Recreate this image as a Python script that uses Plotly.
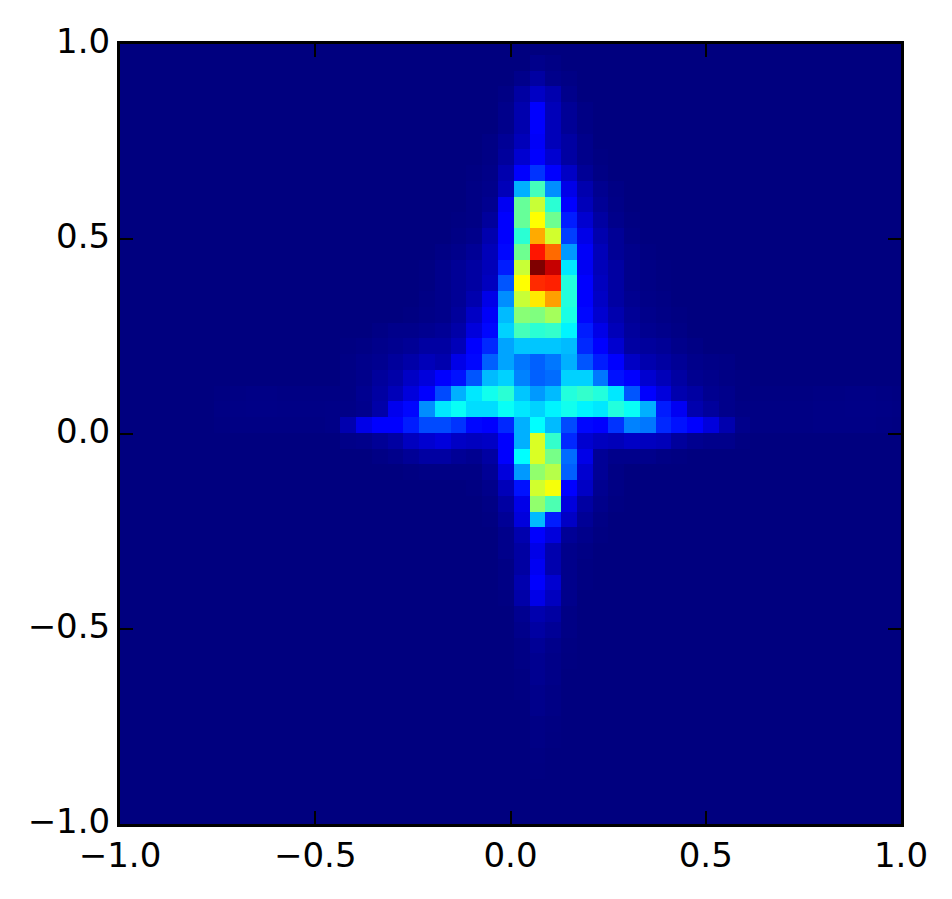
import numpy as np
import plotly.graph_objects as go

# Heat levels (percent of the colour range)
# Columns c0..c25 of the central block, rows r0..r46 from the top
central_rows = [
 [0]*26,
 [0,0,0,0,0,0, 0,0,0,0, 0,0,1,.5,0, 0,0,0,0,0,0,0,0,0,0,0],
 [0,0,0,0,0,0, 0,0,0,0, 0,1,3,1,.5, 0,0,0,0,0,0,0,0,0,0,0],
 [0,0,0,0,0,0, 0,0,0,0, .5,3,6,4,1, 0,0,0,0,0,0,0,0,0,0,0],
 [0,0,0,0,0,0, 0,0,0,0, 1,4,11,5,2, .5,0,0,0,0,0,0,0,0,0,0],
 [0,0,0,0,0,0, 0,0,0,0, 1,4,11,5,2, .5,0,0,0,0,0,0,0,0,0,0],
 [0,0,0,0,0,0, 0,0,0,.5, 2,5,10.5,5,3, 1,0,0,0,0,0,0,0,0,0,0],
 [0,0,0,0,0,0, 0,0,0,.5, 2.5,7,11,7,3, 1,.3,0,0,0,0,0,0,0,0,0],
 [0,0,0,0,0,0, 0,0,.3,.8, 4,12,17,11,6, 2,.5,0,0,0,0,0,0,0,0,0],
 [0,0,0,0,0,0, 0,0,.5,1, 5,28,43,25,9, 4,1.5,.5,0,0,0,0,0,0,0,0],
 [0,0,0,0,0,0, 0,0,.5,1.5, 10,47,58,40,12, 5,2,.7,0,0,0,0,0,0,0,0],
 [0,0,0,0,0,0, 0,.3,.5,2.5, 11,47,64,48,15, 7,3,1,.3,0,0,0,0,0,0,0],
 [0,0,0,0,0,0, 0,.5,1,4, 11,40,73,59,18, 9,4,2,.5,0,0,0,0,0,0,0],
 [0,0,0,0,0,0, .5,1,2,5, 13,48,87,79,26, 10.5,5,2,1,.3,0,0,0,0,0,0],
 [0,0,0,0,0,.3, 1,2,3,5, 15,58,100,95,33, 10,5,3,1,.5,.2,0,0,0,0,0],
 [0,0,0,0,0,.3, 1,2,3,5.5, 20,65,85,86,39, 11,5.5,3,1,.5,.2,0,0,0,0,0],
 [0,0,0,0,0,.5, 1,2,4,9, 25,58,67,74,39, 11,6,3,1.5,.7,.4,0,0,0,0,0],
 [0,0,0,0,.3,.7, 1,2.5,6,10.5, 29,51,50,54,38, 13,7,4,2,1,.6,.3,0,0,0,0],
 [0,0,.5,1,1,1.5, 2,3.5,8,13, 31,43,40,41,34, 15,9,5,2.5,1.5,1,.5,0,0,0,0],
 [.3,.5,1,1.5,2,3, 3,5,11,16, 27,30,30,30,29, 16,11,7,3,2.5,2,1,.5,0,0,0],
 [.5,1,1.5,2.5,3.5,5, 4,9,13,21, 27,23,21,23,28, 20,15,11,6,4,3,2,1,.7,.5,0],
 [.5,1,2.5,3.5,6,8, 11,14,20,29, 31,24,21,22,31, 31,23,14,11,7,5,3,1.5,1,.5,.3],
 [.5,1.5,3,5,8,11, 19,28,33,37, 40,30,26,29,39, 41,39,33,20,12,8,4,3,1.5,1,.3],
 [.7,1.2,3.5,9.5,13,25, 33,36,32,32, 36,33,31,34,37, 34,33,39,36,28,15,10,4,2.5,1,.5],
 [4,9,12,12,15,19, 19,17,13,12, 16,28,35,29,19, 13,12,17,24,23,16,14,11,8,4,1],
 [.8,1,2,3,5.5,7, 8,6,5.5,6, 11,28,60,41,16, 7,5.5,5,6,5.5,5,2.5,1.5,1,1,.3],
 [0,0,.5,1,2,3, 3,2,1.5,3, 11,35,60,49,22, 9,2,1,1,1,.5,.3,0,0,0,0],
 [0,0,0,0,.3,.5, .5,.5,.5,2, 8,26,52,56,21, 7,2,.5,0,0,0,0,0,0,0,0],
 [0,0,0,0,0,0, 0,0,.3,1, 5,14,59,63,12, 6,1.5,.5,0,0,0,0,0,0,0,0],
 [0,0,0,0,0,0, 0,0,0,.5, 3,9,52,44,8, 3,1,.3,0,0,0,0,0,0,0,0],
 [0,0,0,0,0,0, 0,0,0,.3, 2,8,29,15,6, 2,.5,0,0,0,0,0,0,0,0,0],
 [0,0,0,0,0,0, 0,0,0,0, 1,4,12,8,2, 1,.3,0,0,0,0,0,0,0,0,0],
 [0,0,0,0,0,0, 0,0,0,0, 1,3,9,4,1, .5,0,0,0,0,0,0,0,0,0,0],
 [0,0,0,0,0,0, 0,0,0,0, .5,3,10,4,1, .3,0,0,0,0,0,0,0,0,0,0],
 [0,0,0,0,0,0, 0,0,0,0, .5,4,11.5,7,1, .3,0,0,0,0,0,0,0,0,0,0],
 [0,0,0,0,0,0, 0,0,0,0, .3,3.5,9,5.5,1, 0,0,0,0,0,0,0,0,0,0,0],
 [0,0,0,0,0,0, 0,0,0,0, 0,1.5,4,3,.5, 0,0,0,0,0,0,0,0,0,0,0],
 [0,0,0,0,0,0, 0,0,0,0, 0,1,3,2,.5, 0,0,0,0,0,0,0,0,0,0,0],
 [0,0,0,0,0,0, 0,0,0,0, 0,.5,2,1,.3, 0,0,0,0,0,0,0,0,0,0,0],
 [0,0,0,0,0,0, 0,0,0,0, 0,.5,1.5,.8,.2, 0,0,0,0,0,0,0,0,0,0,0],
 [0,0,0,0,0,0, 0,0,0,0, 0,.3,1.5,.8,0, 0,0,0,0,0,0,0,0,0,0,0],
 [0,0,0,0,0,0, 0,0,0,0, 0,.3,1,.5,0, 0,0,0,0,0,0,0,0,0,0,0],
 [0,0,0,0,0,0, 0,0,0,0, 0,0,1,.5,0, 0,0,0,0,0,0,0,0,0,0,0],
 [0,0,0,0,0,0, 0,0,0,0, 0,0,.5,.3,0, 0,0,0,0,0,0,0,0,0,0,0],
 [0,0,0,0,0,0, 0,0,0,0, 0,0,.5,.2,0, 0,0,0,0,0,0,0,0,0,0,0],
 [0,0,0,0,0,0, 0,0,0,0, 0,0,.3,0,0, 0,0,0,0,0,0,0,0,0,0,0],
 [0,0,0,0,0,0, 0,0,0,0, 0,0,.2,0,0, 0,0,0,0,0,0,0,0,0,0,0],
]
# Faint outer arms: rows r22..r24, columns c-8..c-1 and c26..c35
left_arm_rows = [
 [.3,.4,.6,.6,.4,.4,.4,.4],
 [.4,.6,.7,.7,.6,.6,.6,.7],
 [.3,.4,.4,.4,.4,.4,.4,.7],
]
right_arm_rows = [
 [.3,.3,.3,.3,.4,.4,.6,.6,.4,.3],
 [.4,.4,.4,.4,.6,.6,.7,.7,.6,.4],
 [.4,.4,.4,.4,.6,.6,.6,.6,.4,.3],
]
tick_values = [-1.0, -0.5, 0.0, 0.5, 1.0]
tick_labels = ["\u22121.0", "\u22120.5", "0.0", "0.5", "1.0"]

N_COLS, N_ROWS, C0 = 52, 51, 15
grid = np.zeros((N_ROWS, N_COLS))
grid[:len(central_rows), C0:C0 + 26] = np.array(central_rows)
grid[22:25, C0 - 8:C0] = np.array(left_arm_rows)
grid[22:25, C0 + 26:C0 + 36] = np.array(right_arm_rows)

jet = [[0, "#00007f"], [0.11, "#0000ff"], [0.125, "#0000ff"], [0.35, "#00ffff"],
       [0.5, "#7fff7f"], [0.64, "#ffff00"], [0.65, "#ffff00"], [0.89, "#ff0000"],
       [0.91, "#ff0000"], [1, "#7f0000"]]

fig = go.Figure(go.Heatmap(
    z=grid,
    x0=-1.0415 + 0.04036 / 2, dx=0.04036,
    y0=1.0123 - 0.04039 / 2, dy=-0.04039,
    zmin=0, zmax=100, colorscale=jet, showscale=False, zsmooth=False,
    hoverinfo="skip",
))
axis = dict(
    range=[-1, 1], tickvals=tick_values, ticktext=tick_labels,
    ticks="inside", ticklen=13, tickwidth=2, tickcolor="black",
    showline=True, linewidth=3, linecolor="black", mirror="ticks",
    showgrid=False, zeroline=False,
    tickfont=dict(family="DejaVu Sans", size=34, color="black"),
)
fig.update_xaxes(**axis, ticklabelstandoff=-1)
fig.update_yaxes(**axis, ticklabelshift=-3)
fig.update_layout(
    width=952, height=899,
    margin=dict(l=119.8, r=51.2, t=43.5, b=75.2, pad=0),
    paper_bgcolor="white", plot_bgcolor="#00007f",
)
fig.write_html("out.html", config=dict(displayModeBar=False),
               post_script="document.body.style.margin='0';")
